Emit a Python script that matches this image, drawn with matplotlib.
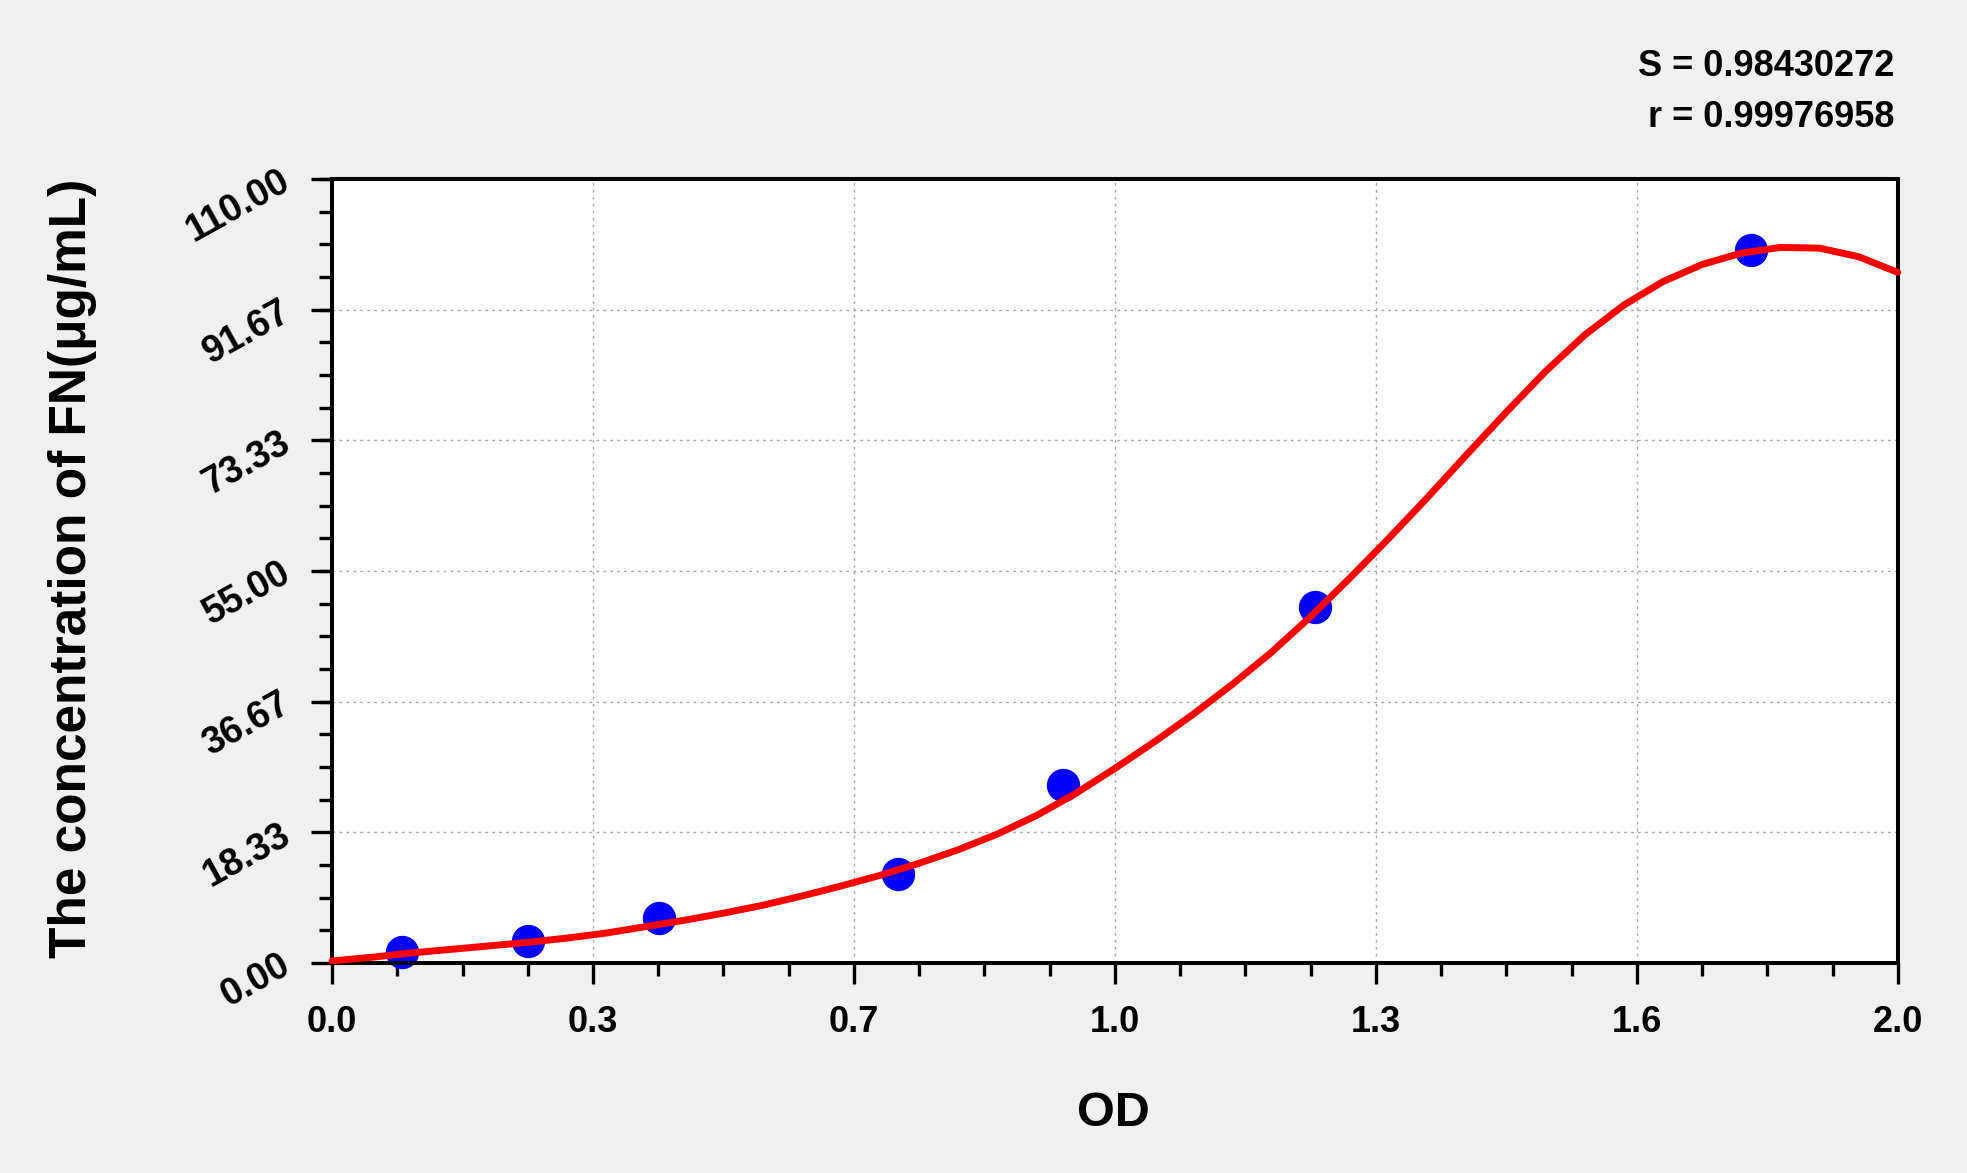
import numpy as np
import matplotlib
matplotlib.use("Agg")
from matplotlib import pyplot as plt
from matplotlib.ticker import FixedLocator, AutoMinorLocator

# standard points (OD vs concentration)
od_points = [0.090, 0.250, 0.418, 0.723, 0.934, 1.256, 1.812]
conc_points = [1.5625, 3.125, 6.25, 12.5, 25.0, 50.0, 100.0]

# fitted curve
curve_od = [0.00, 0.05, 0.10, 0.15, 0.20, 0.25, 0.30, 0.35, 0.40, 0.45,
            0.50, 0.55, 0.60, 0.65, 0.70, 0.75, 0.80, 0.85, 0.90, 0.95,
            1.00, 1.05, 1.10, 1.15, 1.20, 1.25, 1.30, 1.35, 1.40, 1.45,
            1.50, 1.55, 1.60, 1.65, 1.70, 1.75, 1.80, 1.85, 1.90, 1.95, 2.00]
curve_conc = [0.3, 0.8, 1.4, 1.9, 2.4, 2.9, 3.5, 4.2, 5.1, 6.0,
              7.0, 8.1, 9.4, 10.8, 12.3, 14.0, 15.9, 18.1, 20.7, 23.8,
              27.3, 31.0, 34.9, 39.1, 43.6, 48.6, 54.0, 59.6, 65.4, 71.4,
              77.3, 83.0, 88.1, 92.3, 95.6, 98.0, 99.6, 100.4, 100.3, 99.1, 96.9]

x_ticks = [0.0, 1/3, 2/3, 1.0, 4/3, 5/3, 2.0]
x_labels = ["0.0", "0.3", "0.7", "1.0", "1.3", "1.6", "2.0"]
y_ticks = [0.0, 18.33, 36.67, 55.0, 73.33, 91.67, 110.0]
y_labels = ["0.00", "18.33", "36.67", "55.00", "73.33", "91.67", "110.00"]

s_text = "S = 0.98430272"
r_text = "r = 0.99976958"

plt.rcParams['font.family'] = ['Liberation Sans', 'DejaVu Sans']
plt.rcParams['font.weight'] = 'bold'

fig = plt.figure(figsize=(19.67, 11.73), dpi=100, facecolor='#f0f0f0')
ax = fig.add_axes([0.1688, 0.179, 0.796, 0.6684])
ax.set_facecolor('white')

ax.plot(curve_od, curve_conc, color='#ff0000', lw=5.0, zorder=3,
        solid_joinstyle='round', solid_capstyle='round', clip_on=False)
ax.plot(od_points, conc_points, 'o', color='#0000ff', ms=23, mec='#0000ff',
        zorder=2, clip_on=False)

ax.set_xlim(0, 2.0)
ax.set_ylim(0, 110)

ax.xaxis.set_major_locator(FixedLocator(x_ticks))
ax.set_xticklabels(x_labels)
ax.xaxis.set_minor_locator(AutoMinorLocator(4))
ax.yaxis.set_major_locator(FixedLocator(y_ticks))
ax.set_yticklabels(y_labels)
ax.yaxis.set_minor_locator(AutoMinorLocator(4))

ax.grid(True, which='major', color='#a8a8a8', linestyle=(0, (2, 3)), lw=1.0)
ax.set_axisbelow(True)

for sp in ax.spines.values():
    sp.set_linewidth(2.9)

ax.tick_params(which='major', direction='out', length=15, width=2.4,
               labelsize=26, pad=15)
ax.tick_params(which='minor', direction='out', length=9.5, width=2.4)
ax.tick_params(axis='y', which='major', labelsize=27, pad=17)

for lab in ax.get_xticklabels():
    lab.set_fontweight('bold')
for lab in ax.get_yticklabels():
    lab.set_fontweight('bold')
    lab.set_rotation(29)
    lab.set_ha('right')
    lab.set_va('center')
    lab.set_rotation_mode('anchor')

fig.text(0.5662, 0.051, "OD", ha='center', va='center', fontsize=35,
         fontweight='bold')
fig.text(0.037, 0.5155, "The concentration of FN(μg/mL)", rotation=90,
         ha='center', va='center', fontsize=37, fontweight='bold')

fig.text(0.963, 0.943, s_text, ha='right', va='center', fontsize=26,
         fontweight='bold')
fig.text(0.963, 0.900, r_text, ha='right', va='center', fontsize=26,
         fontweight='bold')

fig.savefig("out.png", dpi=100, facecolor=fig.get_facecolor())
